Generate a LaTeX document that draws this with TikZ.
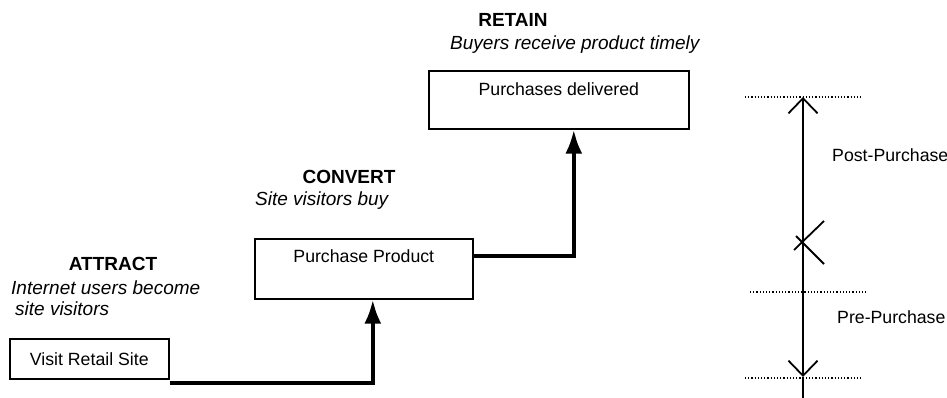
\documentclass[tikz,border=0pt]{standalone}
\usepackage{fontspec}
\setmainfont{Liberation Sans}
\usetikzlibrary{arrows.meta}
\usetikzlibrary{calc}
\newcommand\boxfont{\fontsize{17.7}{21}\selectfont}
\newcommand\labfont{\fontsize{19}{23}\selectfont}
\newcommand\phase[1]{{\labfont\bfseries #1}}
\newcommand\goal[1]{{\labfont\itshape #1}}
\tikzset{
  stage/.style={draw,line width=1.6pt,inner sep=0pt,font=\boxfont},
  flow/.style={line width=4pt,-{Latex[length=24pt,width=17pt]}},
  span/.style={line width=1.8pt,-{Straight Barb[length=15pt,width=29pt,line width=1.8pt]}},
  level/.style={line width=1.2pt,dotted},
  side/.style={font=\boxfont,inner sep=0pt,anchor=base west}
}
\begin{document}
\begin{tikzpicture}[x=1pt,y=-1pt]
\useasboundingbox (0,0) rectangle (947,398);
% stages
\node[stage,anchor=north west,minimum width=159pt,minimum height=40pt] (V) at (9,338) {Visit Retail Site};
\node[stage,anchor=north west,minimum width=218pt,text height=24pt,text depth=36pt] (P) at (254,238) {Purchase Product};
\node[stage,anchor=north west,minimum width=260pt,text height=25pt,text depth=33pt] (D) at (428,70) {Purchases delivered};
% phase labels
\node[inner sep=0pt,anchor=base] (RT) at (513,27) {\phase{RETAIN}};
\node[inner sep=0pt,anchor=base west] (RTg) at (450,50) {\goal{Buyers receive product timely}};
\node[inner sep=0pt,anchor=base] (CV) at (349,183) {\phase{CONVERT}};
\node[inner sep=0pt,anchor=base west] (CVg) at (255,205) {\goal{Site visitors buy}};
\node[inner sep=0pt,anchor=base] (AT) at (113,270) {\phase{ATTRACT}};
\node[inner sep=0pt,anchor=base west] (ATg) at (11,294) {\goal{Internet users become}};
\node[inner sep=0pt,anchor=base west] (ATh) at (15,315) {\goal{site visitors}};
% flow
\draw[flow] ([yshift=-3pt]V.south east) -| ([xshift=9pt]P.south);
\draw[flow] ([yshift=13pt]P.east) -| ([xshift=15pt]D.south);
% time line
\coordinate (T) at (803,97);
\coordinate (M) at (803,242);
\coordinate (B) at (803,377);
\coordinate (E) at (803,398);
\draw[level] (745,97) -- (862,97);
\draw[level] (750,292) -- (867,292);
\draw[level] (745,378) -- (862,378);
\draw[span] (M) -- (T);
\draw[span] (M) -- (B);
\draw[line width=1.8pt] (B) -- (E);
\draw[line width=1.8pt] ($(M)+(-9,8)$) -- ($(M)+(21,-21)$);
\draw[line width=1.8pt] ($(M)+(-7,-6)$) -- ($(M)+(21,22)$);
\node[side] (PO) at (832,162) {Post-Purchase};
\node[side] (PR) at (837,323) {Pre-Purchase};
\end{tikzpicture}
\end{document}
